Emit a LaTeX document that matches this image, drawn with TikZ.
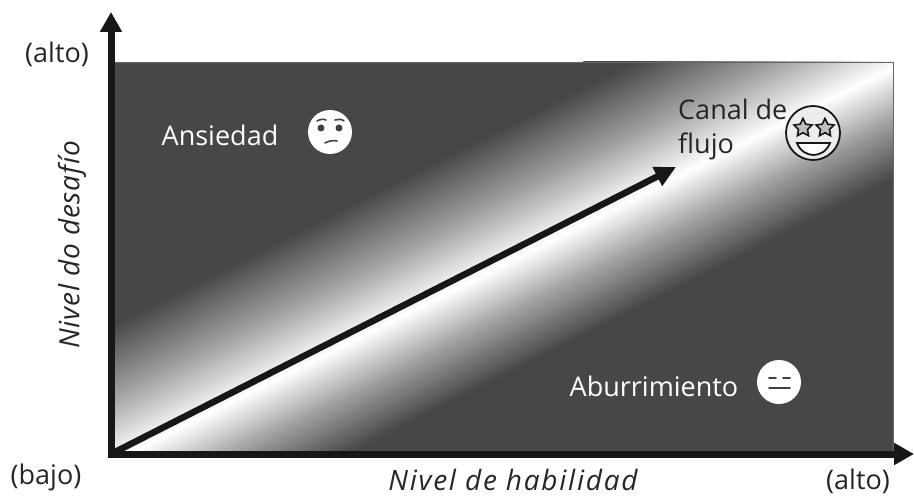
\documentclass[tikz,border=0pt]{standalone}
\usepackage{fontspec}
\setmainfont{Open Sans}
\usetikzlibrary{shapes.geometric,arrows.meta}
\definecolor{bandDark}{gray}{0.28}
\definecolor{inkBlack}{gray}{0.09}
\definecolor{bandMid}{gray}{0.63}
\pgfdeclareverticalshading{flowband}{100bp}{
  color(0bp)=(bandDark);
  color(33bp)=(bandDark);
  color(42bp)=(bandMid);
  color(50bp)=(white);
  color(60bp)=(bandMid);
  color(71bp)=(bandDark);
  color(100bp)=(bandDark)}
\tikzset{
  lbl/.style={font=\fontsize{27}{32}\selectfont,text=black!85,inner sep=0pt},
  lblw/.style={lbl,text=white},
  axlblh/.style={lbl,font=\fontsize{28}{32}\selectfont\itshape\addfontfeatures{LetterSpace=6.3}},
  axlblv/.style={lbl,font=\fontsize{28}{32}\selectfont\itshape\addfontfeatures{LetterSpace=3}},
  axisline/.style={draw=inkBlack,line width=7pt,-{Triangle[width=21pt,length=20pt]}},
  growth/.style={draw=inkBlack,line width=6.5pt,-{Triangle[width=20pt,length=21pt]}},
  whiteface/.style={circle,fill=white,inner sep=0pt,minimum size=44pt},
  eyeline/.style={draw=black!75,line width=1.6pt,line cap=round},
  starface/.style={circle,fill=black!7,draw=inkBlack,line width=1.8pt,inner sep=0pt,minimum size=54pt},
  stareye/.style={star,star points=5,star point ratio=2.0,draw=inkBlack,line width=1.6pt,inner sep=0pt,minimum size=19pt,fill=black!25}
}
\begin{document}
\begin{tikzpicture}[x=1pt,y=-1pt]
\useasboundingbox (0,0) rectangle (914,497);
% background plot
\fill[bandDark] (112,62) rectangle (893,455);
\begin{scope}
\clip (112,62) rectangle (893,455);
\coordinate (bc) at (502,265);
\shade[shading=flowband,transform canvas={rotate around={26.8:(bc)}}]
  ([xshift=-600pt,yshift=-145pt]bc) rectangle ([xshift=600pt,yshift=145pt]bc);
\end{scope}
\draw[black!60,line width=.8pt] (112,62) rectangle (893,455);
% axes
\coordinate (origin) at (111,454);
\coordinate (ytip) at (111,12);
\coordinate (xtip) at (914,454);
\coordinate (gtip) at (676,167);
\coordinate (gstart) at (113,453);
\draw[axisline] ([yshift=-3.5pt]origin) -- (ytip);
\draw[axisline] ([xshift=-3.5pt]origin) -- (xtip);
\draw[growth] (gstart) -- (gtip);
% labels
\node[lbl,anchor=center] (alto1) at (57,54) {(alto)};
\node[lbl,anchor=center] (bajo) at (46,477) {(bajo)};
\node[lbl,anchor=center] (alto2) at (858,481) {(alto)};
\node[axlblh,anchor=base] (hab) at (513,490) {Nivel de habilidad};
\node[axlblv,anchor=center,rotate=90] (des) at (72,245) {Nivel do desafío};
\node[lblw,anchor=center] (ans) at (220,135) {Ansiedad};
\node[lblw,anchor=center] (abu) at (654,386) {Aburrimiento};
\node[lbl,anchor=west] (can1) at (678,109) {Canal de};
\node[lbl,anchor=west] (can2) at (678,146) {flujo};
% anxious face
\node[whiteface] (f1) at (330,132) {};
\fill[black!75] (321,128) circle (3.5);
\fill[black!75] (339,128) circle (3.5);
\draw[eyeline] (317,121) .. controls (320,119) and (324,119) .. (326,120);
\draw[eyeline] (335,120) .. controls (338,119) and (342,119) .. (344,121);
\draw[eyeline] (325,143) .. controls (329,141) and (333,140) .. (337,141);
% bored face
\node[whiteface] (f2) at (779,382) {};
\draw[eyeline] (769,378) -- (776,378);
\draw[eyeline] (783,378) -- (790,378);
\draw[eyeline] (769,388) -- (790,388);
% star face
\node[starface] (f3) at (813,133) {};
\node[stareye] (s1) at (803,128) {};
\node[stareye] (s2) at (825,128) {};
\draw[inkBlack,line width=1.8pt,fill=white] (797,143) -- (830,143) .. controls (827,151) and (820,155) .. (813.5,155) .. controls (807,155) and (800,151) .. (797,143) -- cycle;
\end{tikzpicture}
\end{document}
